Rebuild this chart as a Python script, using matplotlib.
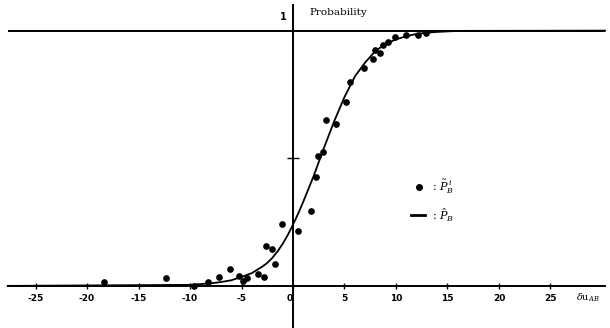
import numpy as np
import matplotlib.pyplot as plt

plt.rcParams['mathtext.fontset'] = 'dejavuserif'

# measured points (dots)
pts_x = [-18.4, -12.3, -9.6, -8.3, -7.2, -6.1, -5.2, -4.9, -4.5, -3.4, -2.8, -2.6, -2.0,
         -1.7, -1.1, 0.5, 1.75, 2.2, 2.4, 2.9, 3.2, 4.2, 5.1, 5.5, 6.9, 7.8, 8.0, 8.4,
         8.7, 9.2, 9.9, 11.0, 12.1, 12.9]
pts_y = [0.016, 0.03, 0.0, 0.016, 0.035, 0.067, 0.04, 0.02, 0.03, 0.047, 0.035, 0.157, 0.145,
         0.086, 0.243, 0.216, 0.294, 0.427, 0.51, 0.525, 0.65, 0.635, 0.72, 0.80, 0.855, 0.89,
         0.925, 0.914, 0.945, 0.957, 0.976, 0.984, 0.984, 0.99]

# fitted curve
curve_x = [-27.7, -10, -8, -7, -6, -5, -4, -3, -2.5, -2, -1.5, -1, -0.5, 0, 0.5, 1, 1.5,
           2, 3, 4, 5, 6, 7, 8, 9, 10, 11, 12, 13, 14, 16, 30.3]
curve_y = [0.0, 0.004, 0.01, 0.015, 0.022, 0.035, 0.05, 0.075, 0.09, 0.11, 0.135, 0.165,
           0.2, 0.24, 0.283, 0.33, 0.38, 0.43, 0.54, 0.645, 0.74, 0.82, 0.875, 0.92, 0.948,
           0.966, 0.978, 0.987, 0.992, 0.995, 0.999, 1.0]

xticks = [-25, -20, -15, -10, -5, 0, 5, 10, 15, 20, 25]
xlabels = ['-25', '-20', '-15', '-10', '-5', '0', '5', '10', '15', '20', '25']

fig = plt.figure(figsize=(6.1, 3.28), dpi=100)
ax = fig.add_axes([0, 0, 1, 1])
ax.set_xlim(-28.45, 30.78)
ax.set_ylim(-0.165, 1.12)

# axes through the origin
ax.spines['top'].set_visible(False)
ax.spines['right'].set_visible(False)
ax.spines['bottom'].set_position(('data', 0))
ax.spines['left'].set_position(('data', 0))
ax.spines['bottom'].set_bounds(-27.7, 30.3)
ax.spines['left'].set_bounds(-0.165, 1.1)
ax.spines['bottom'].set_linewidth(1.4)
ax.spines['left'].set_linewidth(1.4)

ax.set_xticks(xticks)
ax.set_xticklabels(xlabels, fontsize=6.5, fontweight='bold')
ax.tick_params(axis='x', direction='inout', length=5, width=1, pad=3)
for lbl in ax.get_xticklabels():
    if lbl.get_text() == '0':
        lbl.set_horizontalalignment('right')
ax.set_yticks([0.5])
ax.set_yticklabels([''])
ax.tick_params(axis='y', direction='inout', length=8, width=1)

ax.hlines(1, -27.7, 30.3, color='black', lw=1.4)
ax.plot(curve_x, curve_y, color='black', lw=1.3)
ax.plot(pts_x, pts_y, 'o', color='black', markersize=3.8)

ax.text(-0.6, 1.035, '1', fontsize=7, fontweight='bold', ha='right', va='bottom')
ax.text(1.6, 1.07, 'Probability', fontsize=7.5, family='DejaVu Serif', va='center')
ax.text(27.5, -0.045, r'$\delta$u$_{AB}$', fontsize=7, family='DejaVu Serif', va='center')

# legend
ax.plot([12.2], [0.388], 'o', color='black', markersize=4)
ax.text(13.5, 0.388, r': $\tilde{P}_B^{\,i}$', fontsize=8, va='center', family='DejaVu Serif')
ax.plot([11.5, 12.8], [0.278, 0.278], color='black', lw=2)
ax.text(13.5, 0.278, r': $\hat{P}_B$', fontsize=8, va='center', family='DejaVu Serif')

fig.savefig('out.png', dpi=100)
